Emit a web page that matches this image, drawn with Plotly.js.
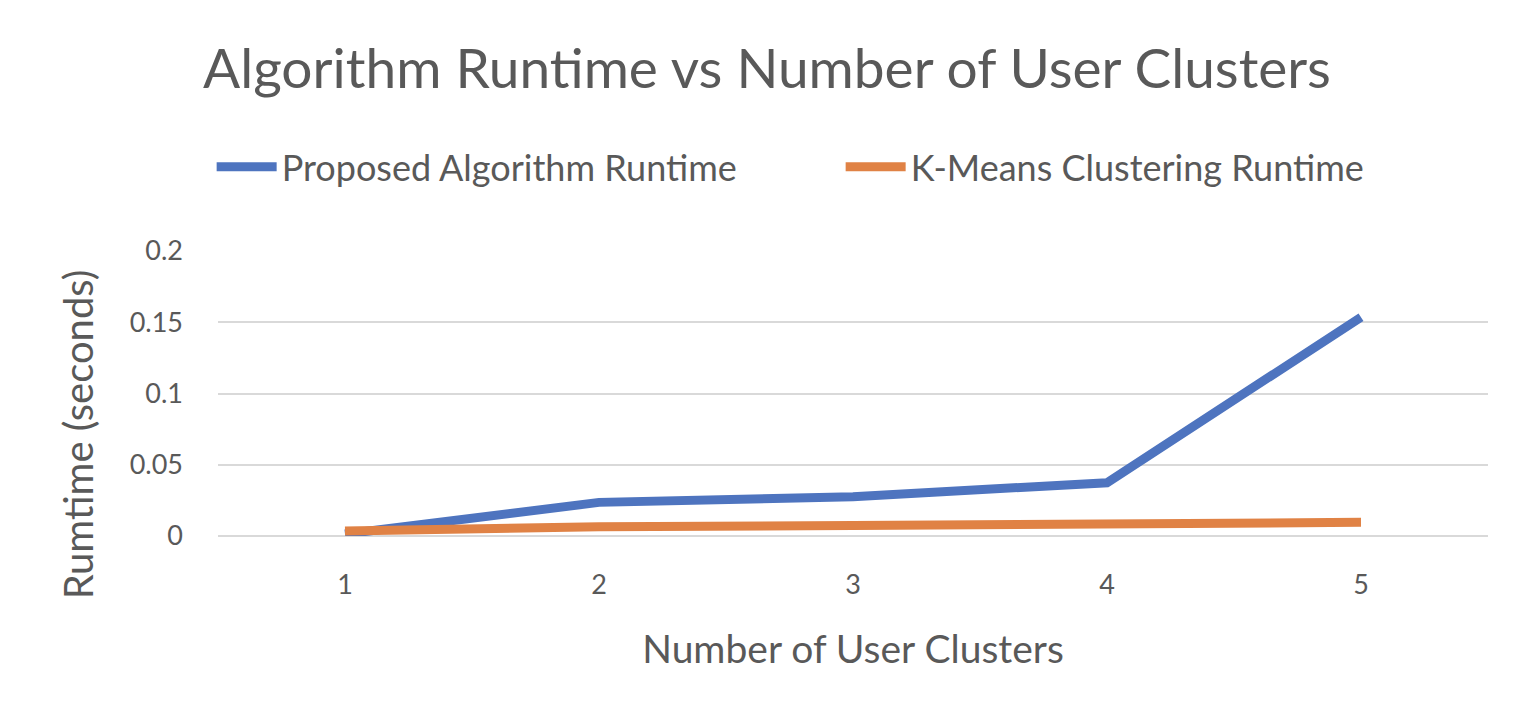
<!DOCTYPE html>
<html>
<head>
<meta charset="utf-8">
<script src="https://cdn.plot.ly/plotly-3.0.1.min.js"></script>
<style>html,body{margin:0;padding:0;background:#fff;}#chart{width:1534px;height:724px;}</style>
</head>
<body>
<div id="chart"></div>
<script>
const clusters = ["1", "2", "3", "4", "5"];
const proposedRuntime = [0.0014, 0.0236, 0.0276, 0.0374, 0.1535];
const kmeansRuntime = [0.0035, 0.0065, 0.0073, 0.0077, 0.0096];
const yTicks = [0, 0.05, 0.1, 0.15, 0.2];
const yTickLabels = ["0", "0.05", "0.1", "0.15", "0.2"];

const FONT = "Lato, 'Open Sans', sans-serif";
const TXT = "#595959";

const traces = [
  {x: clusters, y: proposedRuntime, name: "Proposed Algorithm Runtime", type: "scatter", mode: "lines",
   line: {color: "#4E74BF", width: 9}},
  {x: clusters, y: kmeansRuntime, name: "K-Means Clustering Runtime", type: "scatter", mode: "lines",
   line: {color: "#E08245", width: 9}}
];

const layout = {
  width: 1534, height: 724,
  paper_bgcolor: "#fff", plot_bgcolor: "#fff",
  margin: {l: 218, r: 46, t: 251, b: 188},
  font: {family: FONT, color: TXT},
  title: {text: "Algorithm Runtime vs Number of User Clusters", x: 0.5, xanchor: "center", y: 0.905, yanchor: "middle",
          font: {size: 55, color: TXT, family: FONT}},
  showlegend: true,
  legend: {orientation: "h", x: -0.005, xanchor: "left", y: 1.295, yanchor: "middle",
           font: {size: 36, color: TXT, family: FONT}, entrywidth: 554, entrywidthmode: "pixels",
           itemwidth: 60, traceorder: "normal"},
  xaxis: {type: "category", range: [-0.5, 4.5], showgrid: false, zeroline: false, showline: false,
          ticks: "", tickfont: {size: 27, color: TXT}, ticklabelstandoff: 30,
          title: {text: "Number of User Clusters", font: {size: 39, color: TXT}, standoff: 36}},
  yaxis: {range: [0, 0.2], tickvals: yTicks, ticktext: yTickLabels, showgrid: true, gridcolor: "#D9D9D9", gridwidth: 2,
          zeroline: true, zerolinecolor: "#D9D9D9", zerolinewidth: 2, showline: false, ticks: "",
          tickfont: {size: 27, color: TXT}, ticklabelstandoff: 34},
  annotations: [
    {text: "Rumtime (seconds)", xref: "paper", yref: "paper", x: -0.110, y: 0.358, xanchor: "center", yanchor: "middle",
     textangle: -90, showarrow: false, font: {size: 40, color: TXT, family: FONT}}
  ]
};

Plotly.newPlot("chart", traces, layout, {displayModeBar: false, responsive: false});
</script>
</body>
</html>
